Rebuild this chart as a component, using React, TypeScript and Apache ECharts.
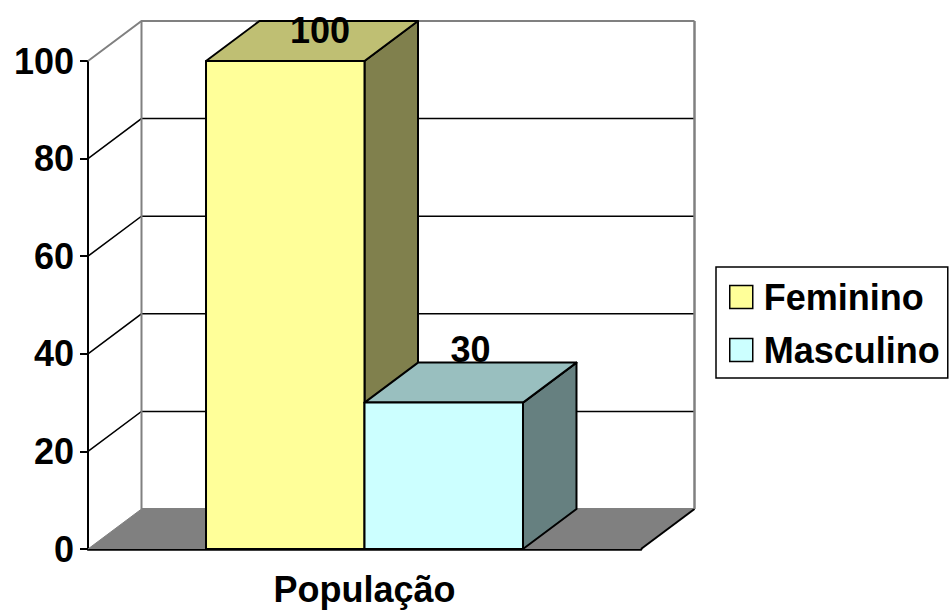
import React, { useEffect, useRef } from "react";
import * as echarts from "echarts";

const categories = ["População"];
const seriesNames = ["Feminino", "Masculino"];
const femininoValues = [100];
const masculinoValues = [30];
const yTicks = [0, 20, 40, 60, 80, 100];

const FONT = "'Liberation Sans', Arial, sans-serif";
const DX = 53.5;
const DY = -40;
const BAR_FRACTION = 0.2866;

const faceColors = [
  { front: "#FFFF99", top: "#BFBF73", side: "#80804D" },
  { front: "#CCFFFF", top: "#99BFBF", side: "#668080" },
];

export default function App() {
  const ref = useRef<HTMLDivElement>(null);

  useEffect(() => {
    if (!ref.current) return;
    const chart = echarts.init(ref.current, null, { renderer: "svg" });
    const yMax = yTicks[yTicks.length - 1];

    const wallRender = (params: any, api: any) => {
      const v = api.value(1);
      const p = api.coord([api.value(0), v]);
      const p0 = api.coord([api.value(0), 0]);
      const band = api.size([1, 0])[0];
      const left = p[0] - band / 2;
      const right = p[0] + band / 2;
      const y = p[1];
      const children: any[] = [];
      if (v === 0) {
        children.push({
          type: "polygon",
          shape: { points: [[left, y], [right, y], [right + DX, y + DY], [left + DX, y + DY]] },
          style: { fill: "#808080", stroke: null },
        });
        children.push({
          type: "line",
          shape: { x1: left, y1: y, x2: left + DX, y2: y + DY },
          style: { stroke: "#808080", lineWidth: 1 },
        });
        children.push({
          type: "line",
          shape: { x1: left + DX, y1: y + DY, x2: right + DX, y2: y + DY },
          style: { stroke: "#808080", lineWidth: 2 },
        });
        children.push({
          type: "line",
          shape: { x1: right, y1: y, x2: right + DX, y2: y + DY },
          style: { stroke: "#000", lineWidth: 2 },
        });
      } else if (v === yMax) {
        const c = "#808080";
        children.push({
          type: "polyline",
          shape: {
            points: [
              [left, y],
              [left + DX, y + DY],
              [right + DX, y + DY],
            ],
          },
          style: { stroke: c, lineWidth: 2, fill: null },
        });
        children.push({
          type: "line",
          shape: { x1: left + DX, y1: p0[1] + DY, x2: left + DX, y2: y + DY },
          style: { stroke: c, lineWidth: 2 },
        });
        children.push({
          type: "line",
          shape: { x1: right + DX, y1: p0[1] + DY, x2: right + DX, y2: y + DY },
          style: { stroke: c, lineWidth: 2.5 },
        });
      } else {
        children.push({
          type: "polyline",
          shape: {
            points: [
              [left, y],
              [left + DX, y + DY],
              [right + DX, y + DY],
            ],
          },
          style: { stroke: "#000", lineWidth: 1.5, fill: null },
        });
      }
      return { type: "group", children };
    };

    const barRender = (idx: number) => (params: any, api: any) => {
      const v = api.value(1);
      const top = api.coord([api.value(0), v]);
      const bottom = api.coord([api.value(0), 0]);
      const band = api.size([1, 0])[0];
      const w = band * BAR_FRACTION;
      const x1 = idx === 0 ? top[0] - w : top[0];
      const x2 = x1 + w;
      const yt = top[1];
      const yb = bottom[1];
      const col = faceColors[idx];
      const stroke = { stroke: "#000", lineWidth: 2, lineJoin: "round" };
      const rawY = yt + DY / 2 - 33;
      const clamped = rawY < 30;
      const lx = (x1 + x2) / 2 + DX / 2 + (clamped ? 8 : 0);
      const ly = clamped ? 30 : rawY;
      return {
        type: "group",
        children: [
          {
            type: "polygon",
            shape: { points: [[x2, yt], [x2 + DX, yt + DY], [x2 + DX, yb + DY], [x2, yb]] },
            style: { fill: col.side, ...stroke },
          },
          {
            type: "polygon",
            shape: { points: [[x1, yt], [x2, yt], [x2 + DX, yt + DY], [x1 + DX, yt + DY]] },
            style: { fill: col.top, ...stroke },
          },
          {
            type: "rect",
            shape: { x: x1, y: yt, width: w, height: yb - yt },
            style: { fill: col.front, ...stroke },
          },
          {
            type: "text",
            x: lx,
            y: ly,
            style: {
              text: String(v),
              fill: "#000",
              font: `bold 36px ${FONT}`,
              align: "center",
              verticalAlign: "middle",
            },
          },
        ],
      };
    };

    chart.setOption({
      animation: false,
      textStyle: { fontFamily: FONT },
      grid: { left: 88, right: 310, top: 61, bottom: 61, containLabel: false },
      legend: {
        data: seriesNames,
        orient: "vertical",
        left: 716,
        top: 267,
        padding: [12, 8, 10, 13],
        itemGap: 17,
        itemWidth: 23,
        itemHeight: 23,
        icon: "rect",
        borderColor: "#000",
        borderWidth: 1.5,
        borderRadius: 0,
        itemStyle: { borderColor: "#000", borderWidth: 1.5 },
        textStyle: {
          fontSize: 36,
          fontWeight: "bold",
          color: "#000",
          fontFamily: FONT,
          padding: [0, 0, 0, 6],
        },
        selectedMode: false,
      },
      xAxis: {
        type: "category",
        data: categories,
        boundaryGap: true,
        axisLine: { lineStyle: { color: "#000", width: 2.5 } },
        axisTick: { length: 8, lineStyle: { color: "#000", width: 2 } },
        axisLabel: { fontSize: 36, fontWeight: "bold", color: "#000", margin: 22, fontFamily: FONT },
        splitLine: { show: false },
      },
      yAxis: {
        type: "value",
        min: 0,
        max: 100,
        interval: 20,
        axisLine: { show: true, lineStyle: { color: "#000", width: 2 } },
        axisTick: { show: true, length: 8, lineStyle: { color: "#000", width: 2 } },
        axisLabel: { fontSize: 36, fontWeight: "bold", color: "#000", margin: 14, fontFamily: FONT },
        splitLine: { show: false },
      },
      series: [
        {
          type: "custom",
          name: "walls",
          renderItem: wallRender,
          data: yTicks.map((v) => [0, v]),
          encode: { x: 0, y: 1 },
          clip: false,
          silent: true,
          z: 1,
        },
        {
          type: "custom",
          name: seriesNames[0],
          renderItem: barRender(0),
          data: femininoValues.map((v, i) => [i, v]),
          encode: { x: 0, y: 1 },
          itemStyle: { color: faceColors[0].front },
          clip: false,
          z: 2,
        },
        {
          type: "custom",
          name: seriesNames[1],
          renderItem: barRender(1),
          data: masculinoValues.map((v, i) => [i, v]),
          encode: { x: 0, y: 1 },
          itemStyle: { color: faceColors[1].front },
          clip: false,
          z: 3,
        },
      ],
    });

    return () => chart.dispose();
  }, []);

  return (
    <div
      ref={ref}
      style={{ position: "absolute", left: 0, top: 0, width: 951, height: 610, background: "#fff" }}
    />
  );
}
